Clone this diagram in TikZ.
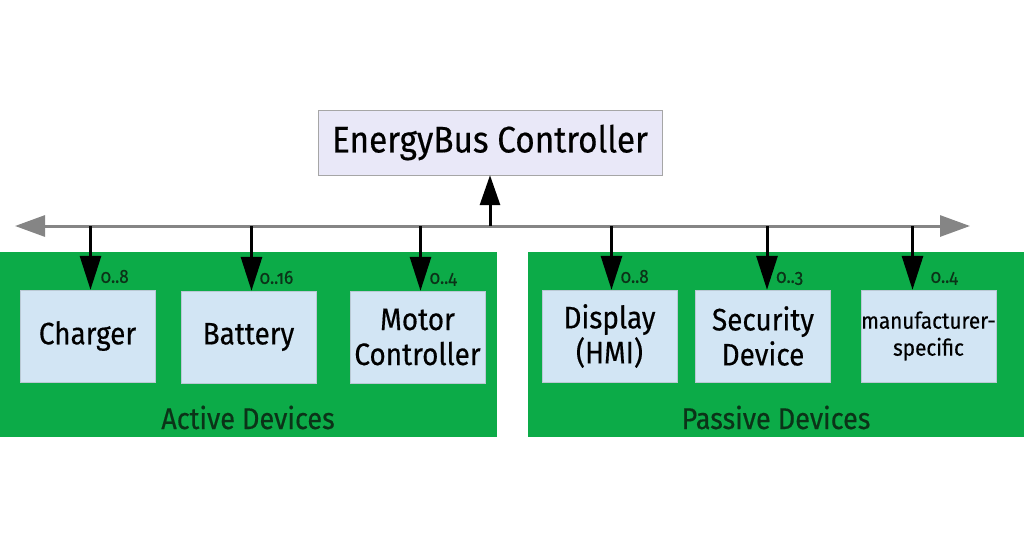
\documentclass[tikz,border=0pt]{standalone}
\usepackage{fontspec}
\setmainfont[FakeStretch=0.9,FakeBold=0.4,Numbers=OldStyle]{Fira Sans}
\usetikzlibrary{arrows.meta,calc}
\definecolor{busgray}{HTML}{858585}
\definecolor{groupgreen}{HTML}{0CAB48}
\definecolor{devblue}{HTML}{D2E5F4}
\definecolor{ctrlfill}{HTML}{E9E8F8}
\definecolor{darkgreen}{HTML}{0B3318}

\tikzset{
	group/.style={fill=groupgreen, draw=none, minimum width=497, minimum height=185, inner sep=0pt},
	device/.style={fill=devblue, draw=devblue!85!black!90, line width=0.4pt, minimum width=135, minimum height=92, inner sep=0pt, align=center, font=\fontsize{31}{35}\selectfont},
	feed/.style={line width=3pt, -{Triangle[length=34pt,width=21pt]}},
	count/.style={anchor=base west, inner sep=0pt, text=darkgreen, font=\fontsize{19}{19}\selectfont},
	grouptitle/.style={anchor=base, inner sep=0pt, text=darkgreen, font=\fontsize{30}{30}\selectfont}
}

\begin{document}
\begin{tikzpicture}[x=1pt, y=-1pt]
			%%%%% FRAME %%%%%
			\useasboundingbox (0, 0) rectangle (1024, 550);
			
			%%%%% GROUPS %%%%%
			\node[group] (active) at (248.5, 344.5) {};
			\node[group, minimum width=496] (passive) at (776, 344.5) {};
			\node[grouptitle] (activetitle) at (248, 429) {Active Devices};
			\node[grouptitle] (passivetitle) at (776, 429) {Passive Devices};
			
			%%%%% CONTROLLER %%%%%
			\node[fill=ctrlfill, draw=black!35, minimum width=344, minimum height=65, inner sep=0pt, font=\fontsize{37}{37}\selectfont] (ctrl) at (490, 142.5) {EnergyBus Controller};
			
			%%%%% BUS %%%%%
			\coordinate (busL) at (15, 226);
			\coordinate (busR) at (970, 226);
			\draw[busgray, line width=3pt, {Triangle[length=30pt,width=21pt]}-{Triangle[length=30pt,width=21pt]}] (busL) -- (busR);
			\draw[line width=3pt, -{Triangle[length=30pt,width=20pt]}] (ctrl.south |- busL) -- (ctrl.south);
			
			%%%%% DEVICES %%%%%
			\node[device] (charger) at (87.5, 336) {Charger};
			\node[device] (battery) at (248.5, 337) {Battery};
			\node[device] (motor) at (417.5, 337) {Motor\\Controller};
			\node[device] (display) at (609.5, 336) {Display\\(HMI)};
			\node[device] (security) at (763, 336) {Security\\Device};
			\node[device, font=\fontsize{23}{27}\selectfont] (mfr) at (928.5, 336) {manufacturer-\\specific};
			
			%%%%% FEEDS %%%%%
			\draw[feed] ([xshift=3pt]charger.north |- busL) -- ([xshift=3pt]charger.north);
			\draw[feed] ([xshift=3pt]battery.north |- busL) -- ([xshift=3pt]battery.north);
			\draw[feed] ([xshift=3pt]motor.north |- busL) -- ([xshift=3pt]motor.north);
			\draw[feed] ([xshift=2pt]display.north |- busL) -- ([xshift=2pt]display.north);
			\draw[feed] ([xshift=4pt]security.north |- busL) -- ([xshift=4pt]security.north);
			\draw[feed] ([xshift=-16pt]mfr.north |- busL) -- ([xshift=-16pt]mfr.north);
			
			%%%%% COUNTS %%%%%
			\node[count] (ncharger) at ([xshift=13pt, yshift=7pt]charger.north) {0..8};
			\node[count] (nbattery) at ([xshift=11pt, yshift=7pt]battery.north) {0..16};
			\node[count] (nmotor) at ([xshift=12pt, yshift=7pt]motor.north) {0..4};
			\node[count] (ndisplay) at ([xshift=11pt, yshift=7pt]display.north) {0..8};
			\node[count] (nsecurity) at ([xshift=13pt, yshift=7pt]security.north) {0..3};
			\node[count] (nmfr) at ([xshift=2pt, yshift=7pt]mfr.north) {0..4};
			
			%%%%% END %%%%%
\end{tikzpicture}
\end{document}
